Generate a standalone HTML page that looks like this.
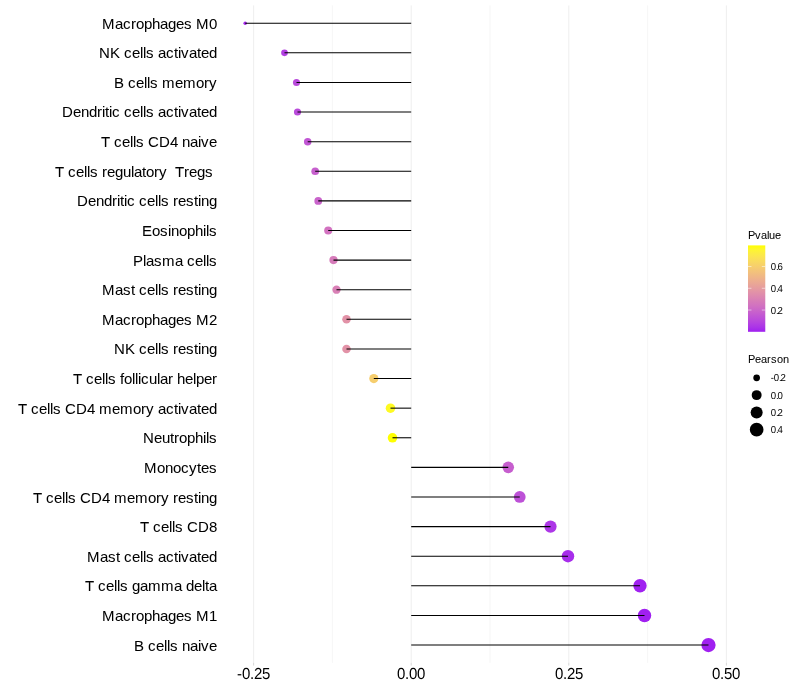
<!DOCTYPE html>
<html lang="en"><head><meta charset="utf-8"><title>Pearson correlation lollipop chart</title>
<style>html,body{margin:0;padding:0;background:#fff}svg{display:block}text{font-family:"Liberation Sans",Arial,Helvetica,sans-serif;fill:#000;white-space:pre}.k{stroke:#000;stroke-width:0.03px}.ax{font-size:15px}.lt{font-size:11px}.ll{font-size:9.6px}</style></head><body>
<svg width="800" height="700" viewBox="0 0 800 700">
<rect width="800" height="700" fill="#fff"/>
<line x1="332.4" y1="5.45" x2="332.4" y2="662.8" stroke="#dedede" stroke-width="0.27"/>
<line x1="490" y1="5.45" x2="490" y2="662.8" stroke="#dedede" stroke-width="0.27"/>
<line x1="647.6" y1="5.45" x2="647.6" y2="662.8" stroke="#dedede" stroke-width="0.27"/>
<line x1="253.6" y1="5.45" x2="253.6" y2="662.8" stroke="#dedede" stroke-width="0.53"/>
<line x1="411.2" y1="5.45" x2="411.2" y2="662.8" stroke="#dedede" stroke-width="0.53"/>
<line x1="568.8" y1="5.45" x2="568.8" y2="662.8" stroke="#dedede" stroke-width="0.53"/>
<line x1="726.4" y1="5.45" x2="726.4" y2="662.8" stroke="#dedede" stroke-width="0.53"/>
<line x1="253.6" y1="662.8" x2="253.6" y2="665.55" stroke="#b3b3b3" stroke-width="0.53"/>
<line x1="411.2" y1="662.8" x2="411.2" y2="665.55" stroke="#b3b3b3" stroke-width="0.53"/>
<line x1="568.8" y1="662.8" x2="568.8" y2="665.55" stroke="#b3b3b3" stroke-width="0.53"/>
<line x1="726.4" y1="662.8" x2="726.4" y2="665.55" stroke="#b3b3b3" stroke-width="0.53"/>
<circle cx="245.2" cy="23.22" r="1.78" fill="#a529ec"/>
<circle cx="284.5" cy="52.83" r="3.33" fill="#b23fe2"/>
<circle cx="296.5" cy="82.44" r="3.55" fill="#b94adb"/>
<circle cx="297.5" cy="112.05" r="3.57" fill="#ba4bdb"/>
<circle cx="307.7" cy="141.66" r="3.74" fill="#c156d4"/>
<circle cx="315.2" cy="171.27" r="3.85" fill="#c760ce"/>
<circle cx="318.25" cy="200.88" r="3.89" fill="#c964cb"/>
<circle cx="328.2" cy="230.49" r="4.03" fill="#d272c0"/>
<circle cx="333.5" cy="260.1" r="4.11" fill="#d67bba"/>
<circle cx="336.5" cy="289.71" r="4.14" fill="#d980b6"/>
<circle cx="346.5" cy="319.32" r="4.27" fill="#e292a7"/>
<circle cx="346.5" cy="348.93" r="4.27" fill="#e292a7"/>
<circle cx="373.8" cy="378.54" r="4.59" fill="#f6ce6e"/>
<circle cx="390.5" cy="408.15" r="4.76" fill="#fefa22"/>
<circle cx="392.5" cy="437.76" r="4.78" fill="#ffff00"/>
<circle cx="508.25" cy="467.37" r="5.8" fill="#c65ece"/>
<circle cx="519.75" cy="496.98" r="5.88" fill="#bd51d7"/>
<circle cx="550.5" cy="526.59" r="6.11" fill="#ad36e7"/>
<circle cx="568" cy="556.2" r="6.23" fill="#a72deb"/>
<circle cx="640" cy="585.81" r="6.7" fill="#a021f0"/>
<circle cx="644.5" cy="615.42" r="6.73" fill="#a020f0"/>
<circle cx="708.5" cy="645.03" r="7.11" fill="#a020f0"/>
<line x1="411.2" y1="23.22" x2="245.2" y2="23.22" stroke="#000000" stroke-width="1.07"/>
<line x1="411.2" y1="52.83" x2="284.5" y2="52.83" stroke="#000000" stroke-width="1.07"/>
<line x1="411.2" y1="82.44" x2="296.5" y2="82.44" stroke="#000000" stroke-width="1.07"/>
<line x1="411.2" y1="112.05" x2="297.5" y2="112.05" stroke="#000000" stroke-width="1.07"/>
<line x1="411.2" y1="141.66" x2="307.7" y2="141.66" stroke="#000000" stroke-width="1.07"/>
<line x1="411.2" y1="171.27" x2="315.2" y2="171.27" stroke="#000000" stroke-width="1.07"/>
<line x1="411.2" y1="200.88" x2="318.25" y2="200.88" stroke="#000000" stroke-width="1.07"/>
<line x1="411.2" y1="230.49" x2="328.2" y2="230.49" stroke="#000000" stroke-width="1.07"/>
<line x1="411.2" y1="260.1" x2="333.5" y2="260.1" stroke="#000000" stroke-width="1.07"/>
<line x1="411.2" y1="289.71" x2="336.5" y2="289.71" stroke="#000000" stroke-width="1.07"/>
<line x1="411.2" y1="319.32" x2="346.5" y2="319.32" stroke="#000000" stroke-width="1.07"/>
<line x1="411.2" y1="348.93" x2="346.5" y2="348.93" stroke="#000000" stroke-width="1.07"/>
<line x1="411.2" y1="378.54" x2="373.8" y2="378.54" stroke="#000000" stroke-width="1.07"/>
<line x1="411.2" y1="408.15" x2="390.5" y2="408.15" stroke="#000000" stroke-width="1.07"/>
<line x1="411.2" y1="437.76" x2="392.5" y2="437.76" stroke="#000000" stroke-width="1.07"/>
<line x1="411.2" y1="467.37" x2="508.25" y2="467.37" stroke="#000000" stroke-width="1.07"/>
<line x1="411.2" y1="496.98" x2="519.75" y2="496.98" stroke="#000000" stroke-width="1.07"/>
<line x1="411.2" y1="526.59" x2="550.5" y2="526.59" stroke="#000000" stroke-width="1.07"/>
<line x1="411.2" y1="556.2" x2="568" y2="556.2" stroke="#000000" stroke-width="1.07"/>
<line x1="411.2" y1="585.81" x2="640" y2="585.81" stroke="#000000" stroke-width="1.07"/>
<line x1="411.2" y1="615.42" x2="644.5" y2="615.42" stroke="#000000" stroke-width="1.07"/>
<line x1="411.2" y1="645.03" x2="708.5" y2="645.03" stroke="#000000" stroke-width="1.07"/>
<text class="ax k" xml:space="preserve" x="102 115 123 131 136 144 152 160 168 176 184 192 196 209" y="29">Macrophages M0</text>
<text class="ax k" xml:space="preserve" x="99 110 120 124 132 140 143 146 154 158 166 174 178 181 189 197 201 209" y="58">NK cells activated</text>
<text class="ax k" xml:space="preserve" x="114 124 128 136 144 147 150 158 162 175 183 196 204 209" y="88">B cells memory</text>
<text class="ax k" xml:space="preserve" x="62 73 81 89 97 102 105 109 112 120 124 132 140 143 146 154 158 166 174 178 181 189 197 201 209" y="117">Dendritic cells activated</text>
<text class="ax k" xml:space="preserve" x="101 110 114 122 130 133 136 144 148 159 170 178 182 190 198 201 209" y="147">T cells CD4 naive</text>
<text class="ax k" xml:space="preserve" x="55 64 68 76 84 87 90 98 102 107 115 123 131 134 142 146 154 159 167 171 175 184 189 197 205 213" y="177">T cells regulatory  Tregs </text>
<text class="ax k" xml:space="preserve" x="77 88 96 104 112 117 120 124 127 135 139 147 155 158 161 169 173 178 186 194 198 201 209" y="206">Dendritic cells resting</text>
<text class="ax k" xml:space="preserve" x="142 152 160 168 171 179 187 195 203 206 209" y="236">Eosinophils</text>
<text class="ax k" xml:space="preserve" x="133 143 146 154 162 175 183 187 195 203 206 209" y="266">Plasma cells</text>
<text class="ax k" xml:space="preserve" x="102 115 123 131 135 139 147 155 158 161 169 173 178 186 194 198 201 209" y="295">Mast cells resting</text>
<text class="ax k" xml:space="preserve" x="102 115 123 131 136 144 152 160 168 176 184 192 196 209" y="325">Macrophages M2</text>
<text class="ax k" xml:space="preserve" x="114 125 135 139 147 155 158 161 169 173 178 186 194 198 201 209" y="354">NK cells resting</text>
<text class="ax k" xml:space="preserve" x="73 82 86 94 102 105 108 116 120 124 132 135 138 141 149 157 160 168 173 177 185 193 196 204 212" y="384">T cells follicular helper</text>
<text class="ax k" xml:space="preserve" x="18 27 31 39 47 50 53 61 65 76 87 95 99 112 120 133 141 146 154 158 166 174 178 181 189 197 201 209" y="414">T cells CD4 memory activated</text>
<text class="ax k" xml:space="preserve" x="143 154 162 170 174 179 187 195 203 206 209" y="443">Neutrophils</text>
<text class="ax k" xml:space="preserve" x="144 157 165 173 181 189 197 201 209" y="473">Monocytes</text>
<text class="ax k" xml:space="preserve" x="33 42 46 54 62 65 68 76 80 91 102 110 114 127 135 148 156 161 169 173 178 186 194 198 201 209" y="503">T cells CD4 memory resting</text>
<text class="ax k" xml:space="preserve" x="140 149 153 161 169 172 175 183 187 198 209" y="532">T cells CD8</text>
<text class="ax k" xml:space="preserve" x="87 100 108 116 120 124 132 140 143 146 154 158 166 174 178 181 189 197 201 209" y="562">Mast cells activated</text>
<text class="ax k" xml:space="preserve" x="85 94 98 106 114 117 120 128 132 140 148 161 174 182 186 194 202 205 209" y="591">T cells gamma delta</text>
<text class="ax k" xml:space="preserve" x="102 115 123 131 136 144 152 160 168 176 184 192 196 209" y="621">Macrophages M1</text>
<text class="ax k" xml:space="preserve" x="134 144 148 156 164 167 170 178 182 190 198 201 209" y="651">B cells naive</text>
<text class="ax" text-rendering="geometricPrecision" xml:space="preserve" transform="translate(0 679) scale(1 1.066)" x="237 242 250 254 262" y="0">-0.25</text>
<text class="ax" text-rendering="geometricPrecision" xml:space="preserve" transform="translate(0 679) scale(1 1.066)" x="397 405 409 417" y="0">0.00</text>
<text class="ax" text-rendering="geometricPrecision" xml:space="preserve" transform="translate(0 679) scale(1 1.066)" x="555 563 567 575" y="0">0.25</text>
<text class="ax" text-rendering="geometricPrecision" xml:space="preserve" transform="translate(0 679) scale(1 1.066)" x="712 720 724 732" y="0">0.50</text>
<text class="lt k" xml:space="preserve" x="748 755 761 767 769 775" y="239">Pvalue</text>
<defs><linearGradient id="g1" x1="0" y1="1" x2="0" y2="0"><stop offset="0.00" stop-color="#a020f0"/><stop offset="0.05" stop-color="#aa33e8"/><stop offset="0.10" stop-color="#b441e1"/><stop offset="0.15" stop-color="#bc4ed9"/><stop offset="0.20" stop-color="#c35ad1"/><stop offset="0.25" stop-color="#ca66c9"/><stop offset="0.30" stop-color="#d171c1"/><stop offset="0.35" stop-color="#d67bb9"/><stop offset="0.40" stop-color="#dc86b1"/><stop offset="0.45" stop-color="#e190a9"/><stop offset="0.50" stop-color="#e59ba0"/><stop offset="0.55" stop-color="#e9a597"/><stop offset="0.60" stop-color="#edaf8e"/><stop offset="0.65" stop-color="#f0b984"/><stop offset="0.70" stop-color="#f3c37a"/><stop offset="0.75" stop-color="#f6cd6f"/><stop offset="0.80" stop-color="#f8d763"/><stop offset="0.85" stop-color="#fbe156"/><stop offset="0.90" stop-color="#fceb46"/><stop offset="0.95" stop-color="#fef530"/><stop offset="1.00" stop-color="#ffff00"/></linearGradient></defs>
<rect x="748" y="245.4" width="17.28" height="86.4" fill="url(#g1)"/>
<line x1="748" y1="310.04" x2="751.46" y2="310.04" stroke="#ffffff" stroke-width="0.53"/>
<line x1="761.82" y1="310.04" x2="765.28" y2="310.04" stroke="#ffffff" stroke-width="0.53"/>
<text class="ll" text-rendering="geometricPrecision" xml:space="preserve" transform="translate(0 314) scale(1 1.06)" x="770.73 775.93 777.43" y="0">0.2</text>
<line x1="748" y1="288.27" x2="751.46" y2="288.27" stroke="#ffffff" stroke-width="0.53"/>
<line x1="761.82" y1="288.27" x2="765.28" y2="288.27" stroke="#ffffff" stroke-width="0.53"/>
<text class="ll" text-rendering="geometricPrecision" xml:space="preserve" transform="translate(0 292) scale(1 1.06)" x="770.73 775.93 777.43" y="0">0.4</text>
<line x1="748" y1="266.51" x2="751.46" y2="266.51" stroke="#ffffff" stroke-width="0.53"/>
<line x1="761.82" y1="266.51" x2="765.28" y2="266.51" stroke="#ffffff" stroke-width="0.53"/>
<text class="ll" text-rendering="geometricPrecision" xml:space="preserve" transform="translate(0 270) scale(1 1.06)" x="770.73 775.93 777.43" y="0">0.6</text>
<text class="lt k" xml:space="preserve" x="748 755 761 767 771 777 783" y="363">Pearson</text>
<circle cx="756.64" cy="377.84" r="3.34" fill="#000000"/>
<text class="ll" text-rendering="geometricPrecision" xml:space="preserve" transform="translate(0 381) scale(1 1.06)" x="770.73 773.83 779.03 780.53" y="0">-0.2</text>
<circle cx="756.64" cy="395.12" r="4.97" fill="#000000"/>
<text class="ll" text-rendering="geometricPrecision" xml:space="preserve" transform="translate(0 399) scale(1 1.06)" x="770.73 775.93 777.43" y="0">0.0</text>
<circle cx="756.64" cy="412.4" r="6.01" fill="#000000"/>
<text class="ll" text-rendering="geometricPrecision" xml:space="preserve" transform="translate(0 416) scale(1 1.06)" x="770.73 775.93 777.43" y="0">0.2</text>
<circle cx="756.64" cy="429.68" r="6.84" fill="#000000"/>
<text class="ll" text-rendering="geometricPrecision" xml:space="preserve" transform="translate(0 433) scale(1 1.06)" x="770.73 775.93 777.43" y="0">0.4</text>
</svg></body></html>
